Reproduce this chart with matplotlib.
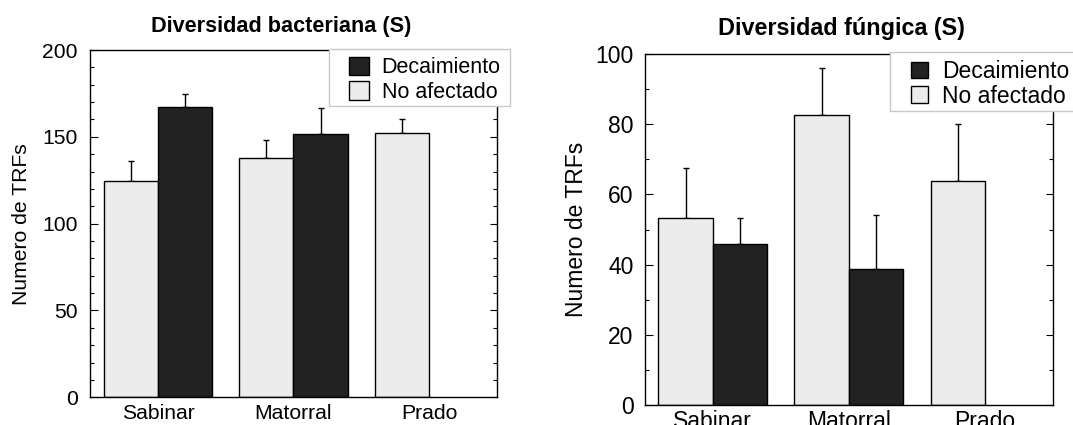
import numpy as np
import matplotlib
matplotlib.use("Agg")
from matplotlib import pyplot as plt
from matplotlib.patches import Rectangle
from matplotlib.ticker import MultipleLocator

plt.rcParams['font.family'] = ['Liberation Sans', 'DejaVu Sans']

# Sites and series
sites = ['Sabinar', 'Matorral', 'Prado']
series_names = ['Decaimiento', 'No afectado']

# Bacterial richness (number of TRFs), mean and upper error
bact_dec = [166.9, 151.5, np.nan]
bact_dec_err = [7.8, 15.2, np.nan]
bact_noaf = [124.7, 137.9, 152.3]
bact_noaf_err = [11.5, 10.0, 8.2]

# Fungal richness (number of TRFs), mean and upper error
fung_dec = [45.8, 38.7, np.nan]
fung_dec_err = [7.5, 15.5, np.nan]
fung_noaf = [53.2, 82.5, 63.9]
fung_noaf_err = [14.2, 13.4, 16.2]

DARK = '#222222'
LIGHT = '#ececec'
W = 1073.0
H = 425.0


def fx(px):
    return px / W


def fy(py):
    return 1 - py / H


def draw_panel(ax, dec, dec_err, noaf, noaf_err, ymax, major, fs, pads):
    x = np.arange(len(sites))
    bw = 0.4
    b1 = ax.bar(x - bw / 2, noaf, bw, color=LIGHT, edgecolor='black', linewidth=1.0, zorder=2)
    b2 = ax.bar(x + bw / 2, dec, bw, color=DARK, edgecolor='black', linewidth=1.0, zorder=2)
    # upper error bars only
    for xs, m, e in [(x - bw / 2, noaf, noaf_err), (x + bw / 2, dec, dec_err)]:
        m = np.array(m, float)
        e = np.array(e, float)
        ok = ~np.isnan(m)
        ax.errorbar(xs[ok], m[ok], yerr=[np.zeros(ok.sum()), e[ok]], fmt='none',
                    ecolor='black', elinewidth=1.0, capsize=2.2, capthick=1.0, zorder=1)
    ax.set_xlim(-0.5, 2.5)
    ax.set_ylim(0, ymax)
    ax.set_xticks(x)
    ax.set_xticklabels(sites)
    ax.yaxis.set_major_locator(MultipleLocator(major))
    ax.yaxis.set_minor_locator(MultipleLocator(10))
    ax.tick_params(axis='x', length=0, labelsize=fs, pad=pads[0])
    ax.tick_params(axis='y', which='both', direction='in', left=True, right=True,
                   labelsize=fs, pad=pads[1], width=0.8)
    ax.tick_params(axis='y', which='major', length=5.4)
    ax.tick_params(axis='y', which='minor', length=2.9)
    for s in ax.spines.values():
        s.set_linewidth(1.0)
    ax.set_ylabel('Numero de TRFs', fontsize=fs, labelpad=pads[2])
    return b1, b2


fig = plt.figure(figsize=(W / 100, H / 100), dpi=100)

# left panel: bacteria
ax1 = fig.add_axes([fx(90.3), fy(397.3), fx(496.7) - fx(90.3), fy(50) - fy(397.3)])
nb1, db1 = draw_panel(ax1, bact_dec, bact_dec_err, bact_noaf, bact_noaf_err,
                      200, 50, 15.2, (5.0, 9.2, 8.0))
ax1.text(0.47, 1.0 + 18.3 / 347.3, 'Diversidad bacteriana (S)', transform=ax1.transAxes,
         ha='center', va='baseline', fontsize=15.6, fontweight='bold')

# right panel: fungi
ax2 = fig.add_axes([fx(644.7), fy(405), fx(1053) - fx(644.7), fy(54) - fy(405)])
nb2, db2 = draw_panel(ax2, fung_dec, fung_dec_err, fung_noaf, fung_noaf_err,
                      100, 20, 16.5, (3.6, 8.0, 5.5))
ax2.text(0.481, 1.0 + 19 / 351.0, 'Diversidad fúngica (S)', transform=ax2.transAxes,
         ha='center', va='baseline', fontsize=16.8, fontweight='bold')


def add_legend(ax, handles, anchor, frame, fs, hl, hh, ls):
    leg = ax.legend(handles, series_names, loc='upper left',
                    bbox_to_anchor=(fx(anchor[0]), fy(anchor[1])),
                    bbox_transform=fig.transFigure, frameon=False, fontsize=fs,
                    borderpad=0, borderaxespad=0, handlelength=hl, handleheight=hh,
                    handletextpad=0.6, labelspacing=ls)
    leg.set_zorder(6)
    x0, y0, x1, y1 = frame
    ax.add_patch(Rectangle((fx(x0), fy(y1)), fx(x1) - fx(x0), fy(y0) - fy(y1),
                           transform=fig.transFigure, facecolor='white',
                           edgecolor='#c8c8c8', linewidth=1.0, clip_on=False, zorder=5))


add_legend(ax1, [db1, nb1], (349.3, 56.7), (329.3, 49, 510.3, 105.7), 15.5, 0.9, 0.93, 0.15)
add_legend(ax2, [db2, nb2], (910.7, 60), (890.3, 51.7, 1076, 111), 16.5, 0.76, 0.75, 0.08)

fig.savefig('out.png', dpi=100)
